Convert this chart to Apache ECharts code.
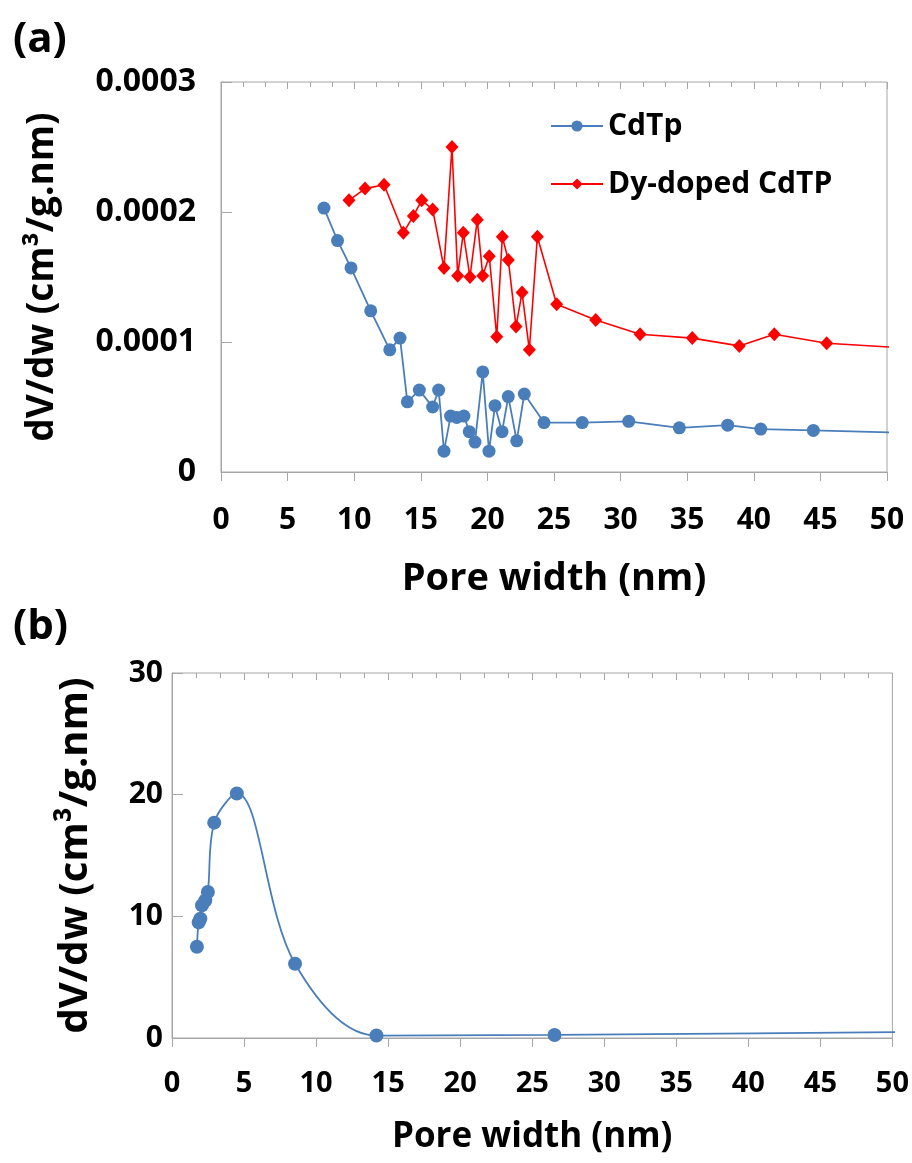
<!DOCTYPE html>
<html>
<head>
<meta charset="utf-8">
<script src="https://cdn.jsdelivr.net/npm/echarts@6/dist/echarts.min.js"></script>
<style>
  html, body { margin: 0; padding: 0; background: #fff; }
  #chart { width: 912px; height: 1163px; }
</style>
</head>
<body>
<div id="chart"></div>
<script>
// (a) pore size distribution, CdTp
const cdtpWidth = [7.73, 8.75, 9.76, 11.24, 12.67, 13.44, 13.99, 14.89, 15.89, 16.34, 16.74, 17.24, 17.70, 18.24, 18.64, 19.07, 19.65, 20.12, 20.57, 21.10, 21.57, 22.20, 22.77, 24.25, 27.12, 30.61, 34.41, 38.04, 40.52, 44.47, 52.0];
const cdtpDv = [0.000203, 0.000178, 0.000157, 0.000124, 0.000094, 0.000103, 0.000054, 0.000063, 0.000050, 0.000063, 0.000016, 0.000043, 0.000042, 0.000043, 0.000031, 0.000023, 0.000077, 0.000016, 0.000051, 0.000031, 0.000058, 0.000024, 0.000060, 0.000038, 0.000038, 0.000039, 0.000034, 0.000036, 0.000033, 0.000032, 0.000030];

// (a) pore size distribution, Dy-doped CdTP
const dyWidth = [9.61, 10.81, 12.24, 13.69, 14.44, 15.07, 15.89, 16.74, 17.34, 17.77, 18.19, 18.69, 19.24, 19.65, 20.14, 20.70, 21.12, 21.57, 22.15, 22.60, 23.15, 23.75, 25.20, 28.13, 31.46, 35.38, 38.91, 41.54, 45.47, 52.0];
const dyDv = [0.000209, 0.000218, 0.000221, 0.000184, 0.000197, 0.000209, 0.000202, 0.000157, 0.000250, 0.000151, 0.000184, 0.000150, 0.000194, 0.000151, 0.000166, 0.000104, 0.000181, 0.000163, 0.000112, 0.000138, 0.000094, 0.000181, 0.000129, 0.000117, 0.000106, 0.000103, 0.000097, 0.000106, 0.000099, 0.000095];

// (b) pore size distribution
const bWidth = [1.73, 1.85, 1.97, 2.08, 2.31, 2.49, 2.93, 4.50, 8.54, 14.19, 26.55, 62.0];
const bDv = [7.5, 9.5, 9.8, 10.9, 11.3, 12.0, 17.7, 20.1, 6.1, 0.2, 0.25, 0.6];

const xTicks = { min: 0, max: 50, interval: 5 };
const yTicksA = { min: 0, max: 0.0003, interval: 0.0001 };
const yTicksB = { min: 0, max: 30, interval: 10 };

const zip = (xs, ys) => xs.map((x, i) => [x, ys[i]]);

const BLUE = '#4a7ebb';
const RED = '#ff0000';
const FONT = 'Open Sans';
const AXIS_GREY = '#a6a6a6';

// each panel gets a labelled x axis (outward major ticks) and a bare
// companion axis carrying the inward major and minor ticks
function xAxisPair(gridIndex, labelMargin, nameGap, nameSize, labelSize) {
  return [
    {
      type: 'value', gridIndex, min: xTicks.min, max: xTicks.max, interval: xTicks.interval,
      name: 'Pore width (nm)', nameLocation: 'middle', nameGap,
      nameTextStyle: { fontFamily: FONT, fontWeight: 'bold', fontSize: nameSize, color: '#000' },
      axisLine: { show: true, lineStyle: { color: AXIS_GREY, width: 1 } },
      axisTick: { show: true, inside: false, length: 9, lineStyle: { color: AXIS_GREY } },
      axisLabel: { margin: labelMargin, fontFamily: FONT, fontWeight: 'bold', fontSize: labelSize, color: '#000' },
      splitLine: { show: false }
    },
    {
      type: 'value', gridIndex, min: xTicks.min, max: xTicks.max, interval: xTicks.interval,
      axisLine: { show: false },
      axisTick: { show: true, inside: true, length: 7, lineStyle: { color: AXIS_GREY } },
      minorTick: { show: true, splitNumber: 3, length: 5, lineStyle: { color: AXIS_GREY } },
      axisLabel: { show: false },
      splitLine: { show: false }
    }
  ];
}

const option = {
  animation: false,
  backgroundColor: '#fff',
  title: [
    { text: '(a)', left: 8, top: 14, textStyle: { fontFamily: FONT, fontWeight: 'bold', fontSize: 42, color: '#000' } },
    { text: '(b)', left: 8, top: 601, textStyle: { fontFamily: FONT, fontWeight: 'bold', fontSize: 42, color: '#000' } }
  ],
  legend: {
    left: 545, top: 106, orient: 'vertical', itemGap: 28, itemWidth: 52, itemHeight: 14,
    data: ['CdTp', 'Dy-doped CdTP'],
    textStyle: { fontFamily: FONT, fontWeight: 'bold', fontSize: 30, color: '#000' }
  },
  grid: [
    { left: 221, top: 82, width: 666, height: 390, show: true, borderColor: AXIS_GREY, borderWidth: 1, backgroundColor: 'transparent' },
    { left: 172, top: 673, width: 724, height: 365, show: true, borderColor: AXIS_GREY, borderWidth: 1, backgroundColor: 'transparent' }
  ],
  xAxis: [
    ...xAxisPair(0, 33, 88, 38, 30),
    ...xAxisPair(1, 31, 82, 35, 29)
  ],
  yAxis: [
    {
      type: 'value', gridIndex: 0, min: yTicksA.min, max: yTicksA.max, interval: yTicksA.interval,
      name: 'dV/dw (cm³/g.nm)', nameLocation: 'middle', nameGap: 160,
      nameTextStyle: { fontFamily: FONT, fontWeight: 'bold', fontSize: 37, color: '#000' },
      axisLine: { show: true, lineStyle: { color: AXIS_GREY } },
      axisTick: { show: true, inside: true, length: 11, lineStyle: { color: AXIS_GREY } },
      axisLabel: { margin: 25, fontFamily: FONT, fontWeight: 'bold', fontSize: 32, color: '#000' },
      splitLine: { show: false }
    },
    {
      type: 'value', gridIndex: 1, min: yTicksB.min, max: yTicksB.max, interval: yTicksB.interval,
      name: 'dV/dw (cm³/g.nm)', nameLocation: 'middle', nameGap: 76,
      nameTextStyle: { fontFamily: FONT, fontWeight: 'bold', fontSize: 40, color: '#000' },
      axisLine: { show: true, lineStyle: { color: AXIS_GREY } },
      axisTick: { show: true, inside: true, length: 11, lineStyle: { color: AXIS_GREY } },
      axisLabel: { margin: 9, fontFamily: FONT, fontWeight: 'bold', fontSize: 30, color: '#000' },
      splitLine: { show: false }
    }
  ],
  series: [
    {
      name: 'CdTp', type: 'line', xAxisIndex: 0, yAxisIndex: 0, clip: true,
      data: zip(cdtpWidth, cdtpDv),
      symbol: 'circle', symbolSize: 13,
      lineStyle: { color: BLUE, width: 1.8 }, itemStyle: { color: BLUE }
    },
    {
      name: 'Dy-doped CdTP', type: 'line', xAxisIndex: 0, yAxisIndex: 0, clip: true,
      data: zip(dyWidth, dyDv),
      symbol: 'diamond', symbolSize: [13, 14],
      lineStyle: { color: RED, width: 1.6 }, itemStyle: { color: RED }
    },
    {
      name: 'b', type: 'line', xAxisIndex: 2, yAxisIndex: 1, clip: true,
      data: zip(bWidth, bDv),
      smooth: 0.35,
      symbol: 'circle', symbolSize: 14,
      lineStyle: { color: BLUE, width: 1.8 }, itemStyle: { color: BLUE }
    }
  ]
};

echarts.init(document.getElementById('chart'), null, { renderer: 'canvas' }).setOption(option);
</script>
</body>
</html>
